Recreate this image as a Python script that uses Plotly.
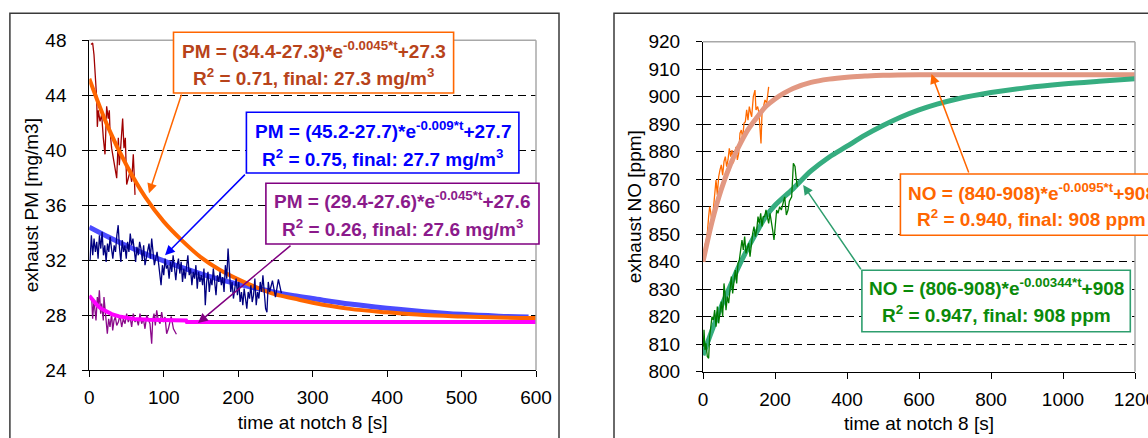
import plotly.graph_objects as go

W, H = 1148, 438
FONT = "Liberation Sans, Arial, sans-serif"

# ---------------- Left chart (exhaust PM) ----------------
red_t = [2.3, 4.5, 6.3, 7.7, 9.0, 9.9, 10.8, 12.1, 14.4, 16.6, 18.8, 21.1, 23.3, 25.5, 26.9, 27.8,
         30.0, 32.3, 34.5, 36.8, 39.0, 40.3, 42.1, 44.8, 46.6, 48.4, 50.2, 52.4, 54.7, 56.9, 59.1,
         60.5, 61.4]
red_pm = [47.7, 47.8, 46.95, 45.7, 44.5, 43.8, 41.7, 42.9, 42.1, 42.6, 40.9, 39.7, 43.2, 42.3, 42.9,
          41.4, 40.15, 39.4, 38.6, 37.96, 40.9, 38.9, 40.15, 42.3, 40.15, 40.9, 37.5, 37.96, 38.45,
          37.7, 39.7, 37.96, 36.75]

orange_fit_t = [0, 25, 50, 75, 100, 125, 150, 175, 200, 225, 250, 275, 300, 350, 400, 450, 500, 550, 600]
orange_fit_pm = [45.2, 41.7, 38.9, 36.6, 34.8, 33.4, 32.2, 31.3, 30.6, 30.0, 29.5, 29.2, 28.9, 28.45,
                 28.2, 28.0, 27.9, 27.82, 27.78]

blue_fit_t = [0, 25, 50, 75, 100, 125, 150, 175, 200, 225, 250, 275, 300, 350, 400, 450, 500, 550, 590]
blue_fit_pm = [34.4, 33.7, 33.05, 32.45, 31.95, 31.45, 31.0, 30.6, 30.25, 29.95, 29.65, 29.4, 29.2,
               28.8, 28.5, 28.25, 28.05, 27.92, 27.85]

navy_t = [1.0, 2.8, 4.6, 6.4, 8.2, 10.0, 11.8, 13.6, 15.4, 17.2, 19.0, 20.8, 22.6, 24.4, 26.2,
          28.0, 29.8, 31.6, 33.4, 35.2, 37.0, 38.8, 40.6, 42.4, 44.2, 46.0, 47.8, 49.6, 51.4, 53.2,
          55.0, 56.8, 58.6, 60.4, 62.2, 64.0, 65.8, 67.6, 69.4, 71.2, 73.0, 74.8, 76.6, 78.4, 80.2,
          82.0, 83.8, 85.6, 87.4, 89.2, 91.0, 92.8, 94.6, 96.4, 98.2, 100.0, 101.8, 103.6, 105.4, 107.2,
          109.0, 110.8, 112.6, 114.4, 116.2, 118.0, 119.8, 121.6, 123.4, 125.2, 127.0, 128.8, 130.6,
          132.4, 134.2, 136.0, 137.8, 139.6, 141.4, 143.2, 145.0, 146.8, 148.6, 150.4, 152.2, 154.0,
          155.8, 157.6, 159.4, 161.2, 163.0, 164.8, 166.6, 168.4, 170.2, 172.0, 173.8, 175.6, 177.4,
          179.2, 181.0, 182.8, 184.6, 186.4, 188.2, 190.0, 191.8, 193.6, 195.4, 197.2, 199.0, 200.8,
          202.6, 204.4, 206.2, 208.0, 209.8, 211.6, 213.4, 215.2, 217.0, 218.8, 220.6, 222.4, 224.2,
          226.0, 227.8, 229.6, 231.4, 233.2, 235.0, 236.8, 238.6, 240.4, 242.2, 246.0, 250.0, 254.0, 258.0]
navy_pm = [31.99, 33.81, 32.35, 33.57, 32.6, 33.33, 32.11, 33.81, 32.84, 34.06,
           32.35, 33.08, 31.87, 33.2, 32.6, 33.69, 32.84, 32.11, 33.08, 32.6,
           33.81, 34.54, 32.84, 31.87, 33.45, 32.6, 33.08, 32.11, 33.33, 32.6,
           33.93, 33.08, 33.57, 32.6, 31.87, 32.96, 32.35, 33.33, 32.84, 31.99,
           33.08, 31.63, 32.23, 32.72, 33.2, 32.11, 33.57, 32.6, 31.63, 32.11,
           32.6, 31.87, 31.14, 30.17, 31.63, 30.9, 32.11, 31.38, 31.63, 30.65,
           31.87, 31.14, 32.35, 31.38, 30.53, 31.63, 32.11, 31.02, 31.87, 30.41,
           31.38, 30.65, 31.63, 32.35, 30.9, 31.38, 30.17, 31.14, 30.65, 31.63,
           29.92, 31.14, 30.41, 30.9, 30.17, 31.38, 28.71, 30.41, 31.14, 29.68,
           30.65, 30.17, 31.38, 30.05, 29.44, 30.9, 30.41, 31.14, 30.17, 30.77,
           29.68, 31.63, 30.65, 32.84, 30.9, 29.68, 30.41, 29.2, 29.92, 30.65,
           29.44, 30.41, 28.95, 29.68, 28.71, 29.92, 29.2, 28.47, 29.68, 29.2,
           30.17, 28.95, 29.44, 30.65, 28.71, 29.68, 29.2, 30.41, 29.68, 30.9,
           29.68, 28.47, 28.2, 30.41, 29.68, 30.5, 29.3, 30.6, 29.6]

purple_t = [3.2, 4.5, 6.3, 7.7, 9.0, 10.8, 12.1, 13.5, 15.3, 16.6, 18.8, 19.7, 21.1, 23.3, 24.2, 26.0,
            27.8, 30.0, 31.4, 33.2, 35.0, 36.8, 39.0, 41.2, 43.5, 45.7, 48.0, 50.2, 52.4, 54.7, 56.9,
            59.1, 61.4, 63.6, 65.9, 68.1, 70.3, 72.6, 74.8, 77.1, 79.3, 81.5, 83.8, 85.1, 86.9, 88.7,
            90.5, 92.7, 95.0, 97.2, 99.4, 101.7, 103.9, 106.2, 110.0, 113.0, 117.0]
purple_pm = [29.31, 27.73, 29.07, 28.34, 27.61, 29.31, 28.58, 29.8, 28.1, 28.83, 27.61, 29.31, 28.34,
             27.37, 26.64, 27.73, 27.13, 28.1, 26.88, 27.61, 27.86, 27.25, 27.49, 27.98, 27.13, 27.73,
             27.37, 28.1, 27.49, 27.86, 27.13, 28.1, 27.49, 27.73, 27.25, 28.1, 27.37, 27.73, 27.0,
             27.98, 27.61, 27.37, 25.91, 27.61, 28.1, 27.25, 28.34, 27.61, 27.37, 28.22, 27.49, 27.86,
             26.64, 27.0, 27.9, 27.0, 26.6]

magenta_fit_t = [0, 5, 10, 15, 20, 25, 30, 40, 50, 60, 80, 100, 130, 131, 600]
magenta_fit_pm = [29.4, 29.05, 28.75, 28.5, 28.33, 28.18, 28.07, 27.9, 27.79, 27.72, 27.65, 27.62,
                  27.6, 27.5, 27.5]

# ---------------- Right chart (exhaust NO) ----------------
orange_t = [1.9, 4.6, 9.3, 12.0, 15.7, 18.5, 21.3, 25.0, 27.8, 32.4, 36.1, 39.8, 43.5, 47.2, 50.9,
            54.6, 58.3, 62.0, 65.7, 69.4, 73.1, 76.9, 80.6, 84.3, 88.0, 91.7, 95.4, 99.1, 102.8,
            106.5, 110.2, 113.9, 117.6, 121.3, 125.0, 128.7, 132.4, 135.2, 139.8, 144.4, 147.2,
            151.8, 155.5, 158.3, 161.1, 163.9, 167.6, 172.2, 176.9, 179.6, 182.4]
orange_no = [840.0, 845.5, 847.9, 850.3, 856.4, 860.0, 858.2, 854.0, 857.6, 866.1, 869.7, 864.3,
             870.9, 873.4, 875.2, 871.5, 876.4, 878.2, 874.6, 877.0, 881.2, 878.2, 880.6, 875.8,
             878.8, 881.8, 877.0, 879.4, 886.7, 887.9, 884.9, 890.3, 890.9, 895.2, 891.5, 896.4,
             894.0, 892.7, 900.0, 902.4, 895.2, 896.4, 894.0, 887.9, 883.0, 894.0, 896.4, 898.8,
             897.6, 901.8, 903.6]

salmon_fit_t = [0, 25, 50, 75, 100, 125, 150, 175, 200, 225, 250, 300, 350, 400, 450, 500, 600, 800, 1000, 1200]
salmon_fit_no = [840, 854.5, 866, 875, 882, 888, 892.5, 896.5, 899.2, 901.3, 903, 905.2, 906.4,
                 907.1, 907.5, 907.8, 908, 908, 908, 908]

green_t = [0.9, 2.8, 5.6, 8.3, 12.0, 15.7, 18.5, 21.3, 25.0, 28.7, 32.4, 36.1, 39.8, 43.5, 47.2,
           50.9, 54.6, 58.3, 61.1, 63.9, 67.6, 71.3, 75.0, 78.7, 82.4, 86.1, 89.8, 93.5, 97.2,
           100.9, 104.6, 108.3, 112.0, 115.7, 119.4, 123.1, 126.9, 130.6, 134.3, 138.0, 141.7,
           145.4, 149.1, 152.8, 156.5, 160.2, 163.9, 167.6, 171.3, 175.0, 178.7, 182.4, 186.1,
           189.8, 193.5, 197.2, 200.9, 204.6, 208.3, 213.0, 217.6, 222.2, 226.9, 231.5, 236.1,
           240.0, 246.3, 251.0, 255.6, 258.3, 262.0]
green_no = [809.1, 815.2, 807.9, 810.3, 805.5, 804.9, 812.8, 815.2, 820.0, 818.8, 822.4, 816.4,
            823.7, 817.6, 822.4, 825.5, 820.0, 832.1, 828.5, 822.4, 827.3, 824.9, 829.7, 834.6,
            828.5, 833.4, 837.0, 832.1, 839.4, 840.6, 844.3, 847.9, 844.3, 849.1, 843.0, 845.5,
            846.7, 841.8, 846.7, 850.3, 852.8, 849.1, 851.5, 856.4, 853.9, 857.6, 852.8, 856.4,
            856.4, 858.8, 856.4, 853.9, 857.6, 855.2, 851.5, 847.9, 855.2, 858.8, 857.6, 860.0,
            858.8, 861.2, 863.6, 857.0, 858.8, 862.0, 863.6, 875.8, 874.6, 870.9, 867.3]

green_fit_t = [0, 25, 50, 75, 100, 125, 150, 175, 200, 250, 300, 350, 400, 450, 500, 550, 600, 650,
               700, 800, 900, 1000, 1100, 1200]
green_fit_no = [806, 815, 823.5, 831, 838.5, 845, 851, 856.5, 860.5, 866.5, 873, 878, 882, 886,
                889.5, 892.6, 895.2, 897.3, 899, 901.5, 903.3, 904.6, 905.6, 906.5]

left_xticks = [0, 100, 200, 300, 400, 500, 600]
left_yticks = [24, 28, 32, 36, 40, 44, 48]
right_xticks = [0, 200, 400, 600, 800, 1000, 1200]
right_yticks = [800, 810, 820, 830, 840, 850, 860, 870, 880, 890, 900, 910, 920]


def px(x):
    return x / W


def py(y):
    return 1 - y / H


fig = go.Figure()


def line(t, v, color, width, xa="x", ya="y", shape="linear"):
    fig.add_trace(go.Scatter(x=t, y=v, mode="lines", xaxis=xa, yaxis=ya,
                             line=dict(color=color, width=width, shape=shape), hoverinfo="skip",
                             showlegend=False))


line(red_t, red_pm, "#a00000", 1.3)
line(blue_fit_t, blue_fit_pm, "#4b4bff", 5, shape="spline")
line(orange_fit_t, orange_fit_pm, "#ff6600", 4, shape="spline")
line(navy_t, navy_pm, "#000080", 1.3)
line(purple_t, purple_pm, "#8b0a8b", 1.3)
line(magenta_fit_t, magenta_fit_pm, "#ff00ff", 4)

line(orange_t, orange_no, "#ff6a00", 1.3, "x2", "y2")
line(salmon_fit_t, salmon_fit_no, "#e29882", 5, "x2", "y2", shape="spline")
line(green_fit_t, green_fit_no, "#36ad80", 5, "x2", "y2", shape="spline")
line(green_t, green_no, "#007a00", 1.3, "x2", "y2")

axis_common = dict(showline=True, linecolor="black", linewidth=1, ticks="outside", ticklen=6,
                   tickcolor="black", tickfont=dict(family=FONT, size=19, color="black"),
                   zeroline=False, automargin=False, ticklabeloverflow="allow",
                   title_font=dict(family=FONT, size=19, color="black"))

fig.update_layout(
    template="none",
    width=W, height=H, margin=dict(l=0, r=0, t=0, b=0, pad=0), autosize=False,
    paper_bgcolor="white", plot_bgcolor="white", showlegend=False,
    xaxis=dict(domain=[px(89.3), px(536)], range=[0, 600], tickvals=left_xticks, anchor="y",
               showgrid=False, title=dict(text="time at notch 8 [s]", standoff=8),
               ticklabelstandoff=4, **axis_common),
    yaxis=dict(domain=[py(370), py(40.3)], range=[24, 48], tickvals=left_yticks, anchor="x",
               showgrid=True, gridcolor="black", gridwidth=1, griddash="8px,5px",
               title=dict(text="exhaust PM [mg/m3]", standoff=1), ticklabelstandoff=12,
               **axis_common),
    xaxis2=dict(domain=[px(703), px(1135)], range=[0, 1200], tickvals=right_xticks, anchor="y2",
                showgrid=False, title=dict(text="time at notch 8 [s]", standoff=8),
                ticklabelstandoff=4, **axis_common),
    yaxis2=dict(domain=[py(371.7), py(41.7)], range=[800, 920], tickvals=right_yticks, anchor="x2",
                showgrid=True, gridcolor="black", gridwidth=1, griddash="8px,5px",
                title=dict(text="exhaust NO [ppm]", standoff=1), ticklabelstandoff=12,
                **axis_common),
)

shapes = []
# gray plot-area top/right borders
for xr, yr in (("x domain", "y domain"), ("x2 domain", "y2 domain")):
    shapes.append(dict(type="line", xref=xr, yref=yr, x0=0, x1=1, y0=1, y1=1,
                       line=dict(color="#a8a8a8", width=1.5), layer="above"))
    shapes.append(dict(type="line", xref=xr, yref=yr, x0=1, x1=1, y0=0, y1=1,
                       line=dict(color="#a8a8a8", width=1.5), layer="above"))
# outer chart frames
shapes.append(dict(type="rect", xref="paper", yref="paper", x0=px(9.9), x1=px(559), y0=-0.1,
                   y1=py(13.3), line=dict(color="#3a3a3a", width=1.5), fillcolor="rgba(0,0,0,0)",
                   layer="above"))
shapes.append(dict(type="rect", xref="paper", yref="paper", x0=px(614), x1=1.1, y0=-0.1,
                   y1=py(13.3), line=dict(color="#3a3a3a", width=1.5), fillcolor="rgba(0,0,0,0)",
                   layer="above"))

boxes = [
    # x0, x1, y0, y1, border colour, text colour, line1, line2, y line1, y line2
    (173.5, 453.6, 32.3, 93.0, "#ff6600", "#b8431a",
     "PM = (34.4-27.3)*e<sup>-0.0045*t</sup>+27.3", "R<sup>2</sup> = 0.71, final: 27.3 mg/m<sup>3</sup>", 50, 77),
    (246.4, 518.9, 112.3, 173.0, "#0000ff", "#0000ff",
     "PM = (45.2-27.7)*e<sup>-0.009*t</sup>+27.7", "R<sup>2</sup> = 0.75, final: 27.7 mg/m<sup>3</sup>", 130, 157.5),
    (265.9, 539.0, 183.3, 244.0, "#800080", "#8b1a8b",
     "PM = (29.4-27.6)*e<sup>-0.045*t</sup>+27.6", "R<sup>2</sup> = 0.26, final: 27.6 mg/m<sup>3</sup>", 200, 227.5),
    (900.4, 1162.6, 174.0, 235.3, "#ff6600", "#ff6600",
     "NO = (840-908)*e<sup>-0.0095*t</sup>+908", "R<sup>2</sup> = 0.940, final: 908 ppm", 191.7, 217.5),
    (861.9, 1130.3, 270.3, 331.7, "#2e9e6e", "#0a8a0a",
     "NO = (806-908)*e<sup>-0.00344*t</sup>+908", "R<sup>2</sup> = 0.947, final: 908 ppm", 287, 314),
]

annotations = []
for x0, x1, y0, y1, bc, tc, l1, l2, yl1, yl2 in boxes:
    shapes.append(dict(type="rect", xref="paper", yref="paper", x0=px(x0), x1=px(x1),
                       y0=py(y1), y1=py(y0), line=dict(color=bc, width=1.6),
                       fillcolor="white", layer="above"))
    cx = (x0 + x1) / 2
    for txt, yy in ((l1, yl1), (l2, yl2)):
        annotations.append(dict(xref="paper", yref="paper", x=px(cx), y=py(yy), text="<b>" + txt + "</b>",
                                showarrow=False, xanchor="center", yanchor="middle",
                                font=dict(family=FONT, size=19, color=tc)))

arrows = [
    # head t, head v, tail t, tail v, colour, axes
    (80.2, 36.87, 124.5, 44.16, "#ff6600", "x", "y"),
    (101.7, 32.35, 211.0, 38.33, "#0000ff", "x", "y"),
    (146.0, 27.42, 272.3, 33.15, "#800080", "x", "y"),
    (634.7, 908.25, 739.7, 871.9, "#ff6600", "x2", "y2"),
    (278.3, 867.9, 441.4, 836.7, "#2e9e6e", "x2", "y2"),
]
for hx, hy, tx, ty, c, xa, ya in arrows:
    annotations.append(dict(xref=xa, yref=ya, axref=xa, ayref=ya, x=hx, y=hy, ax=tx, ay=ty,
                            text="", showarrow=True, arrowhead=2, arrowsize=1.3, arrowwidth=1.5,
                            arrowcolor=c, standoff=0, startstandoff=0))

fig.update_layout(shapes=shapes, annotations=annotations)
fig.write_html("out.html")
